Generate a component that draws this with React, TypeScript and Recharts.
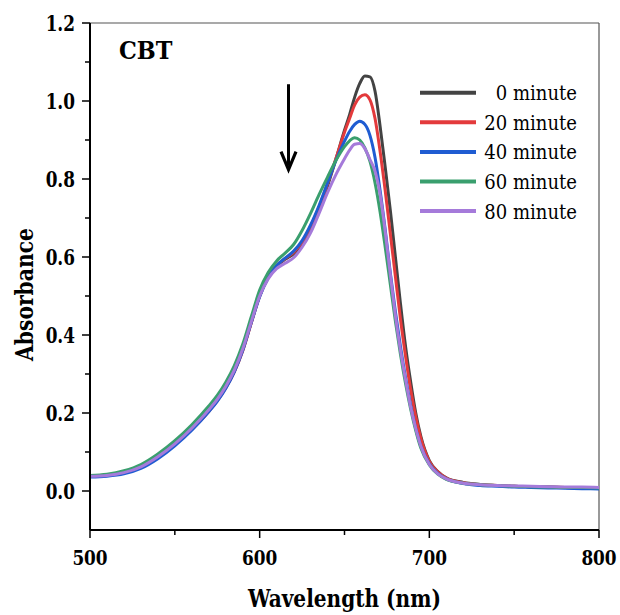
import React from 'react';
import { LineChart, Line, XAxis, YAxis, ReferenceLine } from 'recharts';

const FONT = "'DejaVu Serif Condensed', 'DejaVu Serif', serif";

const wavelengths = [500, 510, 520, 530, 540, 550, 560, 570, 575, 580, 585, 590, 595, 600, 605, 610, 615, 620, 625, 630, 635, 640, 645, 650, 653, 656, 659, 662, 665, 668, 671, 674, 677, 680, 683, 686, 689, 692, 695, 700, 705, 710, 720, 730, 740, 750, 760, 770, 780, 790, 800];

const min0 = [0.038, 0.040, 0.047, 0.062, 0.088, 0.121, 0.160, 0.206, 0.233, 0.266, 0.307, 0.362, 0.432,
  0.500, 0.548, 0.577, 0.594, 0.608, 0.632, 0.672, 0.722, 0.782, 0.852, 0.925,
  0.965, 1.010, 1.045, 1.064, 1.062, 1.025, 0.935, 0.830, 0.720, 0.600, 0.480, 0.370, 0.280, 0.200, 0.140,
  0.078, 0.050, 0.034, 0.022, 0.017, 0.014, 0.012, 0.011, 0.010, 0.009, 0.008, 0.007];

const min20 = [0.039, 0.041, 0.048, 0.062, 0.087, 0.119, 0.158, 0.204, 0.231, 0.264, 0.305, 0.359, 0.430,
  0.500, 0.548, 0.578, 0.596, 0.612, 0.638, 0.678, 0.728, 0.788, 0.853, 0.920,
  0.955, 0.990, 1.010, 1.016, 1.003, 0.955, 0.870, 0.770, 0.660, 0.550, 0.440, 0.345, 0.260, 0.190, 0.135,
  0.076, 0.049, 0.033, 0.021, 0.016, 0.014, 0.012, 0.011, 0.010, 0.009, 0.008, 0.007];

const min40 = [0.036, 0.038, 0.044, 0.058, 0.083, 0.116, 0.156, 0.203, 0.230, 0.263, 0.305, 0.360, 0.431,
  0.498, 0.546, 0.578, 0.597, 0.615, 0.642, 0.682, 0.732, 0.790, 0.848, 0.897,
  0.922, 0.940, 0.948, 0.940, 0.912, 0.855, 0.770, 0.670, 0.560, 0.460, 0.370, 0.290, 0.220, 0.160, 0.115,
  0.070, 0.045, 0.031, 0.019, 0.014, 0.012, 0.010, 0.009, 0.008, 0.007, 0.006, 0.005];

const min60 = [0.040, 0.043, 0.052, 0.068, 0.095, 0.129, 0.170, 0.218, 0.245, 0.279, 0.321, 0.376, 0.446,
  0.515, 0.560, 0.590, 0.610, 0.632, 0.668, 0.712, 0.760, 0.805, 0.848, 0.883,
  0.898, 0.906, 0.900, 0.880, 0.845, 0.790, 0.715, 0.625, 0.530, 0.435, 0.350, 0.275, 0.210, 0.155, 0.110,
  0.067, 0.043, 0.030, 0.020, 0.016, 0.014, 0.012, 0.011, 0.010, 0.009, 0.009, 0.008];

const min80 = [0.038, 0.040, 0.047, 0.062, 0.088, 0.121, 0.161, 0.208, 0.235, 0.268, 0.309, 0.364, 0.433,
  0.500, 0.544, 0.570, 0.584, 0.598, 0.625, 0.662, 0.712, 0.765, 0.812, 0.852,
  0.874, 0.889, 0.891, 0.878, 0.850, 0.820, 0.760, 0.665, 0.555, 0.450, 0.360, 0.285, 0.215, 0.160, 0.115,
  0.068, 0.044, 0.031, 0.020, 0.016, 0.014, 0.013, 0.012, 0.011, 0.010, 0.010, 0.009];

const seriesNames = ['0 minute', '20 minute', '40 minute', '60 minute', '80 minute'];
const seriesKeys = ['m0', 'm20', 'm40', 'm60', 'm80'];
const seriesColors = ['#434343', '#e33a3c', '#1f5cd2', '#3a9f6e', '#a57ada'];
const seriesValues = [min0, min20, min40, min60, min80];

const xTicks = [500, 550, 600, 650, 700, 750, 800];
const yTicks = [0, 0.1, 0.2, 0.3, 0.4, 0.5, 0.6, 0.7, 0.8, 0.9, 1.0, 1.1, 1.2];
const arrowX = 617;
const arrowTop = 1.043;
const arrowTip = 0.824;

const data = wavelengths.map((w, i) => {
  const row: any = { w };
  seriesKeys.forEach((k, j) => { row[k] = seriesValues[j][i]; });
  return row;
});

// Times-like advance widths (em) so that the fallback serif occupies the same width
const BOLD_W: Record<string, number> = {
  '0': 0.5, '1': 0.5, '2': 0.5, '3': 0.5, '4': 0.5, '5': 0.5, '6': 0.5, '7': 0.5, '8': 0.5, '9': 0.5,
  '.': 0.25, ' ': 0.25, W: 1.0, a: 0.5, v: 0.5, e: 0.444, l: 0.278, n: 0.556, g: 0.5, t: 0.333, h: 0.556,
  '(': 0.333, ')': 0.333, m: 0.833, A: 0.722, b: 0.556, s: 0.389, o: 0.5, r: 0.444, c: 0.444, C: 0.722, B: 0.667, T: 0.667,
};
const REG_W: Record<string, number> = {
  '0': 0.5, '1': 0.5, '2': 0.5, '3': 0.5, '4': 0.5, '5': 0.5, '6': 0.5, '7': 0.5, '8': 0.5, '9': 0.5,
  ' ': 0.25, m: 0.778, i: 0.278, n: 0.5, u: 0.5, t: 0.278, e: 0.444,
};
const tw = (s: string, size: number, bold: boolean) =>
  s.split('').reduce((acc, ch) => acc + ((bold ? BOLD_W : REG_W)[ch] ?? 0.5), 0) * size;

const SerifText = (props: any) => {
  const { children, size, bold, glyph, ...rest } = props;
  const s = String(children);
  return (
    <text
      {...rest}
      fontFamily={FONT}
      fontWeight={bold ? 'bold' : 'normal'}
      fontSize={glyph}
      textLength={tw(s, size, bold)}
      lengthAdjust="spacingAndGlyphs"
      fill="#000"
    >
      {s}
    </text>
  );
};

const XTick = (props: any) => {
  const { x, y, payload } = props;
  const major = payload.value % 100 === 0;
  return (
    <g>
      <line x1={x} y1={y} x2={x} y2={y + (major ? 8 : 5)} stroke="#000" strokeWidth={1.5} />
      {major && (
        <SerifText x={x} y={y + 35} textAnchor="middle" size={23.5} glyph={21} bold>
          {payload.value}
        </SerifText>
      )}
    </g>
  );
};

const YTick = (props: any) => {
  const { x, y, payload } = props;
  const major = Math.round(payload.value * 10) % 2 === 0;
  return (
    <g>
      <line x1={x - (major ? 8 : 5)} y1={y} x2={x} y2={y} stroke="#000" strokeWidth={1.5} />
      {major && (
        <SerifText x={x - 15} y={y + 8} textAnchor="end" size={23.5} glyph={22.5} bold>
          {payload.value.toFixed(1)}
        </SerifText>
      )}
    </g>
  );
};

const ArrowShape = (props: any) => {
  const { x1, y1, x2, y2 } = props;
  return (
    <g>
      <line x1={x1} y1={y1} x2={x2} y2={y2 - 4} stroke="#000" strokeWidth={3} />
      <path d={`M ${x2 - 7.5} ${y2 - 18} L ${x2} ${y2} L ${x2 + 7.5} ${y2 - 18}`} stroke="#000" strokeWidth={3.2} fill="none" />
    </g>
  );
};

export default function App() {
  return (
    <div style={{ position: 'absolute', left: 0, top: 0, width: 620, height: 615, background: '#fff' }}>
      <LineChart width={620} height={615} data={data} margin={{ top: 23, right: 21, bottom: 0, left: 0 }}>
        <XAxis
          dataKey="w"
          type="number"
          domain={[500, 800]}
          ticks={xTicks}
          interval={0}
          tickSize={0}
          tickMargin={0}
          tickLine={false}
          tick={<XTick />}
          height={85}
          axisLine={{ stroke: '#000', strokeWidth: 2 }}
          label={{
            content: (p: any) => {
              const vb = p.viewBox || { x: 90, y: 530, width: 509, height: 85 };
              return (
                <SerifText x={vb.x + vb.width / 2} y={vb.y + 77} textAnchor="middle" size={26} glyph={24} bold>
                  Wavelength (nm)
                </SerifText>
              );
            },
          }}
        />
        <YAxis
          type="number"
          domain={[-0.1, 1.2]}
          ticks={yTicks}
          interval={0}
          tickSize={0}
          tickMargin={0}
          tickLine={false}
          tick={<YTick />}
          width={90}
          axisLine={{ stroke: '#000', strokeWidth: 2 }}
          label={{
            content: (p: any) => {
              const vb = p.viewBox || { x: 0, y: 23, width: 90, height: 507 };
              const cx = 33;
              const cy = vb.y + vb.height / 2 + 18;
              return (
                <SerifText x={cx} y={cy} transform={`rotate(-90 ${cx} ${cy})`} textAnchor="middle" size={26} glyph={24} bold>
                  Absorbance
                </SerifText>
              );
            },
          }}
        />
        <ReferenceLine y={1.2} stroke="#555" strokeWidth={1.2} ifOverflow="extendDomain" />
        <ReferenceLine x={800} stroke="#555" strokeWidth={1.2} ifOverflow="extendDomain" />
        {seriesKeys.map((k, j) => (
          <Line
            key={k}
            dataKey={k}
            name={seriesNames[j]}
            stroke={seriesColors[j]}
            strokeWidth={3}
            dot={false}
            type="monotone"
            isAnimationActive={false}
          />
        ))}
        <ReferenceLine
          segment={[{ x: arrowX, y: arrowTop }, { x: arrowX, y: arrowTip }]}
          shape={<ArrowShape />}
        />
      </LineChart>
      <svg width={620} height={615} style={{ position: 'absolute', left: 0, top: 0, pointerEvents: 'none' }}>
        <SerifText x={119} y={59} size={26} glyph={24} bold>CBT</SerifText>
        {seriesNames.map((n, j) => {
          const cy = 92.7 + j * 29.6;
          return (
            <g key={n}>
              <line x1={420} y1={cy} x2={476} y2={cy} stroke={seriesColors[j]} strokeWidth={4} />
              <SerifText x={577} y={cy + 7.5} textAnchor="end" size={23} glyph={21} bold={false}>{n}</SerifText>
            </g>
          );
        })}
      </svg>
    </div>
  );
}
